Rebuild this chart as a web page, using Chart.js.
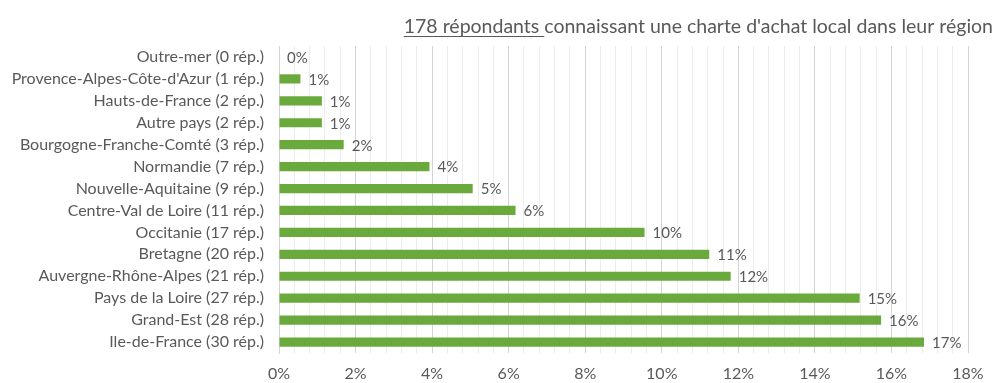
<!DOCTYPE html>
<html>
<head>
<meta charset="utf-8">
<script src="https://cdn.jsdelivr.net/npm/chart.js@4"></script>
<style>
  body { margin: 0; background: #fff; }
  #wrap { width: 997px; height: 383px; }
</style>
</head>
<body>
<div id="wrap"><canvas id="myChart"></canvas></div>
<script>
// data
const regions = [
  "Outre-mer (0 rép.)",
  "Provence-Alpes-Côte-d'Azur (1 rép.)",
  "Hauts-de-France (2 rép.)",
  "Autre pays (2 rép.)",
  "Bourgogne-Franche-Comté (3 rép.)",
  "Normandie (7 rép.)",
  "Nouvelle-Aquitaine (9 rép.)",
  "Centre-Val de Loire (11 rép.)",
  "Occitanie (17 rép.)",
  "Bretagne (20 rép.)",
  "Auvergne-Rhône-Alpes (21 rép.)",
  "Pays de la Loire (27 rép.)",
  "Grand-Est (28 rép.)",
  "Ile-de-France (30 rép.)",
];
const shares = [0, 0.56, 1.12, 1.12, 1.69, 3.93, 5.06, 6.18, 9.55, 11.24, 11.8, 15.17, 15.73, 16.85];
const shareLabels = ["0%", "1%", "1%", "1%", "2%", "4%", "5%", "6%", "10%", "11%", "12%", "15%", "16%", "17%"];
const titleUnderlined = "178 répondants ";
const titleRest = "connaissant une charte d'achat local dans leur région";

const FONT = "Lato";
const GREY = "#595959";

const isMajor = (v) => Math.abs(v / 2 - Math.round(v / 2)) < 1e-6;

// title with the underlined part
const titlePlugin = {
  id: "underTitle",
  afterDraw(chart) {
    const ctx = chart.ctx;
    ctx.save();
    ctx.font = "19.5px " + FONT;
    ctx.fillStyle = GREY;
    ctx.textBaseline = "alphabetic";
    const w1 = ctx.measureText(titleUnderlined).width;
    const w2 = ctx.measureText(titleRest).width;
    const x0 = 993 - w1 - w2;
    const y = 33;
    ctx.fillText(titleUnderlined, x0, y);
    ctx.fillText(titleRest, x0 + w1, y);
    ctx.strokeStyle = GREY;
    ctx.lineWidth = 1;
    ctx.beginPath();
    ctx.moveTo(x0, y + 3.5);
    ctx.lineTo(x0 + w1, y + 3.5);
    ctx.stroke();
    ctx.restore();
  },
};

// percent labels at the end of each bar
const valueLabels = {
  id: "valueLabels",
  afterDatasetsDraw(chart) {
    const ctx = chart.ctx;
    const meta = chart.getDatasetMeta(0);
    ctx.save();
    ctx.font = "15px " + FONT;
    ctx.fillStyle = GREY;
    ctx.textAlign = "left";
    ctx.textBaseline = "middle";
    meta.data.forEach((bar, i) => {
      ctx.fillText(shareLabels[i], bar.x + 8, bar.y + 1);
    });
    ctx.restore();
  },
};

const data = {
  labels: regions,
  datasets: [
    {
      data: shares,
      backgroundColor: "#6aaa3c",
      borderWidth: 0,
      barPercentage: 0.42,
      categoryPercentage: 1,
    },
  ],
};

const config = {
  type: "bar",
  data,
  options: {
    indexAxis: "y",
    responsive: true,
    maintainAspectRatio: false,
    animation: false,
    layout: { padding: { top: 46, right: 29, left: 0, bottom: 0 } },
    plugins: {
      legend: { display: false },
      tooltip: { enabled: false },
    },
    scales: {
      x: {
        min: 0,
        max: 18,
        afterFit: (scale) => { scale.height = 30; },
        ticks: {
          stepSize: 0.4,
          autoSkip: false,
          maxRotation: 0,
          padding: 11,
          color: GREY,
          font: { family: FONT, size: 16 },
          callback: (v) => (isMajor(v) ? Math.round(v) + "%" : ""),
        },
        grid: {
          drawTicks: false,
          color: (c) => (isMajor(c.tick.value) ? "#d4d4d4" : "#ececec"),
        },
        border: { display: false },
      },
      y: {
        afterFit: (scale) => { scale.width = 279; },
        ticks: {
          autoSkip: false,
          padding: 15,
          color: GREY,
          font: { family: FONT, size: 16 },
        },
        grid: { display: false, drawTicks: false },
        border: { display: true, color: "#d4d4d4" },
      },
    },
  },
  plugins: [titlePlugin, valueLabels],
};

const myChart = new Chart(document.getElementById("myChart"), config);
</script>
</body>
</html>
